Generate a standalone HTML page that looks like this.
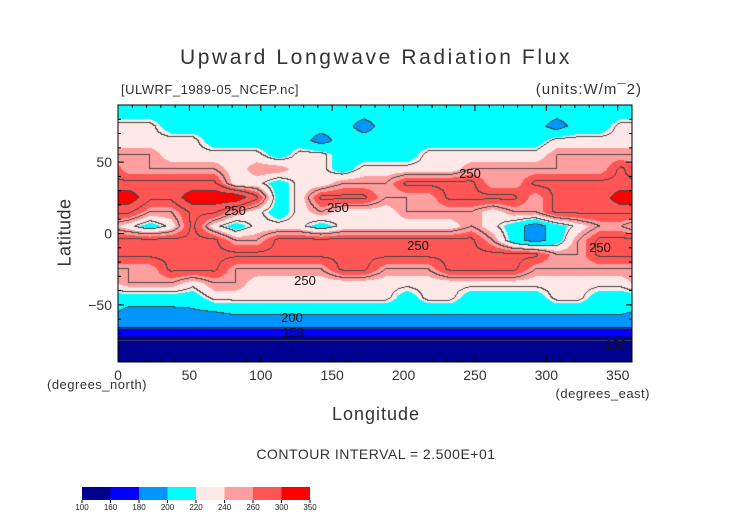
<!DOCTYPE html>
<html><head><meta charset="utf-8"><style>
body{margin:0;background:#fff;width:752px;height:532px;overflow:hidden;position:relative;font-family:"Liberation Sans",sans-serif;color:#222}
.t{position:absolute;white-space:nowrap;font-weight:300;letter-spacing:0.5px}
</style></head><body>
<div class="t" style="left:0;width:752px;text-align:center;top:46px;font-size:21px;letter-spacing:2.6px;color:#333">Upward Longwave Radiation Flux</div>
<div class="t" style="left:121px;top:82px;font-size:13px;color:#333">[ULWRF_1989-05_NCEP.nc]</div>
<div class="t" style="right:110px;top:81px;font-size:15px;color:#333;letter-spacing:1px">(units:W/m¯2)</div>
<div class="t" style="left:25px;top:222px;font-size:18px;transform:rotate(-90deg);transform-origin:center;width:80px;text-align:center;color:#333">Latitude</div>
<div class="t" style="left:47px;top:377px;font-size:13px;color:#333">(degrees_north)</div>
<div class="t" style="left:0;width:752px;text-align:center;top:404px;font-size:18px;letter-spacing:1px;color:#333">Longitude</div>
<div class="t" style="right:102px;top:386px;font-size:13px;color:#333">(degrees_east)</div>
<div class="t" style="left:0;width:752px;text-align:center;top:446px;font-size:14px;color:#333">CONTOUR INTERVAL = 2.500E+01</div>
<canvas id="map" width="514" height="257" style="position:absolute;left:118px;top:105px"></canvas>
<svg id="ov" width="752" height="532" style="position:absolute;left:0;top:0"></svg>
<script>
const lonCenters=[7.5,22.5,37.5,52.5,67.5,82.5,97.5,112.5,127.5,142.5,157.5,172.5,187.5,202.5,217.5,232.5,247.5,262.5,277.5,292.5,307.5,322.5,337.5,352.5];
const latCenters=[85,75,65,55,45,35,25,15,5,-5,-15,-25,-35,-45,-55,-65,-75,-85];
const flux=[
[210,210,210,210,210,210,210,210,210,210,210,210,210,210,210,210,210,210,210,210,210,210,210,210],
[230,230,210,210,210,210,210,210,210,210,210,190,210,210,210,210,210,210,210,210,190,210,210,230],
[230,230,230,230,210,210,210,210,210,190,210,210,210,210,210,210,210,210,210,210,230,230,230,230],
[250,250,230,230,230,230,230,210,230,230,210,210,210,210,230,230,230,230,230,230,250,250,250,250],
[250,250,250,250,250,230,250,250,230,230,210,230,230,230,230,230,250,250,250,250,250,250,250,280],
[280,280,280,280,280,230,230,210,230,230,250,250,250,280,280,280,280,250,250,280,280,280,280,280],
[320,280,280,320,320,320,280,210,230,280,280,280,250,250,250,280,280,280,280,250,280,280,280,320],
[280,250,250,280,280,250,230,210,230,250,230,230,230,250,250,250,250,230,250,250,280,280,280,280],
[230,210,230,280,230,210,230,230,230,210,230,230,230,230,230,230,250,230,210,190,210,230,250,250],
[280,280,280,280,280,250,250,280,280,280,280,280,280,280,280,280,280,250,210,190,210,250,280,280],
[280,280,280,280,280,280,280,280,280,280,280,280,280,280,280,280,280,280,280,280,250,250,280,280],
[250,250,280,280,280,250,250,250,250,250,280,280,250,250,250,280,280,280,280,250,250,250,250,250],
[250,250,250,230,250,250,230,230,230,230,230,230,230,230,230,230,230,230,230,230,230,230,230,230],
[210,210,210,210,230,230,230,230,230,230,230,230,230,210,230,230,210,210,210,210,230,230,210,210],
[195,195,195,197,200,205,205,205,205,205,205,205,205,205,205,205,205,205,205,205,205,205,205,205],
[181,181,181,181,181,181,181,181,181,181,181,181,181,181,181,181,181,181,181,181,181,181,181,181],
[150,150,150,150,150,150,150,150,150,150,150,150,150,150,150,150,150,150,150,150,150,150,150,150],
[130,130,130,130,130,130,130,130,130,130,130,130,130,130,130,130,130,130,130,130,130,130,130,130]];
const levels=[100,160,180,200,220,240,260,300,350];
const colors=["#000090","#0000ff","#0096ff","#00ffff","#ffe8e8","#ff9e9e","#ff5555","#ff0000"];
const latTicks=[50,0,-50];
const lonTicks=[0,50,100,150,200,250,300,350];
const X0=118,X1=632,Y0=105,Y1=362;
function xs(lon){return X0+(lon/360)*(X1-X0);}
function ys(lat){return Y0+((90-lat)/180)*(Y1-Y0);}
function sample(lon,lat){
  let fi=(90-lat)/10-0.5; fi=Math.max(0,Math.min(latCenters.length-1,fi));
  let fj=lon/15-0.5; const n=lonCenters.length;
  const i0=Math.floor(fi),i1=Math.min(latCenters.length-1,i0+1),ti=fi-i0;
  let j0=Math.floor(fj),tj=fj-j0; const ja=(j0+n)%n,jb=(j0+1+n)%n;
  const a=flux[i0][ja]*(1-tj)+flux[i0][jb]*tj, b=flux[i1][ja]*(1-tj)+flux[i1][jb]*tj;
  return a*(1-ti)+b*ti;
}
const cv=document.getElementById('map'),ctx=cv.getContext('2d');
const W=cv.width,H=cv.height,img=ctx.createImageData(W,H);
const rgb=colors.map(c=>[parseInt(c.substr(1,2),16),parseInt(c.substr(3,2),16),parseInt(c.substr(5,2),16)]);
const vals=new Float32Array(W*H);
for(let y=0;y<H;y++)for(let x=0;x<W;x++)vals[y*W+x]=sample((x+0.5)/W*360,90-(y+0.5)/H*180);
for(let y=0;y<H;y++)for(let x=0;x<W;x++){
  const v=vals[y*W+x];
  let k=0;for(let i=levels.length-2;i>=0;i--){if(v>=levels[i]){k=i;break;}}
  let c=rgb[k];
  const cl=Math.floor(v/25);
  if((x+1<W&&Math.floor(vals[y*W+x+1]/25)!==cl)||(y+1<H&&Math.floor(vals[(y+1)*W+x]/25)!==cl))c=[70,70,70];
  const p=(y*W+x)*4;img.data[p]=c[0];img.data[p+1]=c[1];img.data[p+2]=c[2];img.data[p+3]=255;
}
ctx.putImageData(img,0,0);
const svg=document.getElementById('ov'),NS='http://www.w3.org/2000/svg';
function mk(t,a){const e=document.createElementNS(NS,t);for(const k in a)e.setAttribute(k,a[k]);svg.appendChild(e);return e;}
const fr=mk('rect',{x:X0,y:Y0,width:X1-X0,height:Y1-Y0,fill:'none',stroke:'#000','stroke-width':1});


for(let l=0;l<=360;l+=10){const big=l%50===0;
  mk('line',{x1:xs(l),x2:xs(l),y1:Y1,y2:Y1-(big?6:3),stroke:'#000'});
  mk('line',{x1:xs(l),x2:xs(l),y1:Y0,y2:Y0+(big?6:3),stroke:'#000'});}
for(let l=-90;l<=90;l+=10){const big=l%50===0;
  mk('line',{x1:X0,x2:X0+(big?6:3),y1:ys(l),y2:ys(l),stroke:'#000'});
  mk('line',{x1:X1,x2:X1-(big?6:3),y1:ys(l),y2:ys(l),stroke:'#000'});}
lonTicks.forEach(l=>{const t=mk('text',{x:xs(l),y:Y1+18,'text-anchor':'middle','font-size':14,fill:'#333','font-family':'Liberation Sans'});t.textContent=l;
  
  });
latTicks.forEach(l=>{const t=mk('text',{x:X0-6,y:ys(l)+5,'text-anchor':'end','font-size':14,fill:'#333','font-family':'Liberation Sans'});t.textContent=(l<0?'\u2212'+(-l):l);
  
  });
[[250,470,178],[250,235,215],[250,338,212],[250,418,250],[250,600,252],[250,305,285],[200,292,322],[150,293,337],[150,616,349]].forEach(c=>{
  const t=mk('text',{x:c[1],y:c[2],'text-anchor':'middle','font-size':13,fill:'#111','font-family':'Liberation Sans'});t.textContent=c[0];
  
  });
const CB0=82,CB1=310,CBY=487,CBH=13,bw=(CB1-CB0)/colors.length;
colors.forEach((c,i)=>{const r=mk('rect',{x:CB0+i*bw,y:CBY,width:bw,height:CBH,fill:c});
  
  });
levels.forEach((v,i)=>{mk('line',{x1:CB0+i*bw,x2:CB0+i*bw,y1:CBY+CBH,y2:CBY+CBH+3,stroke:'#000'});
  const t=mk('text',{x:CB0+i*bw,y:CBY+CBH+10,'text-anchor':'middle','font-size':8,fill:'#222','font-family':'Liberation Sans'});t.textContent=v;
  
  });
</script>
</body></html>
